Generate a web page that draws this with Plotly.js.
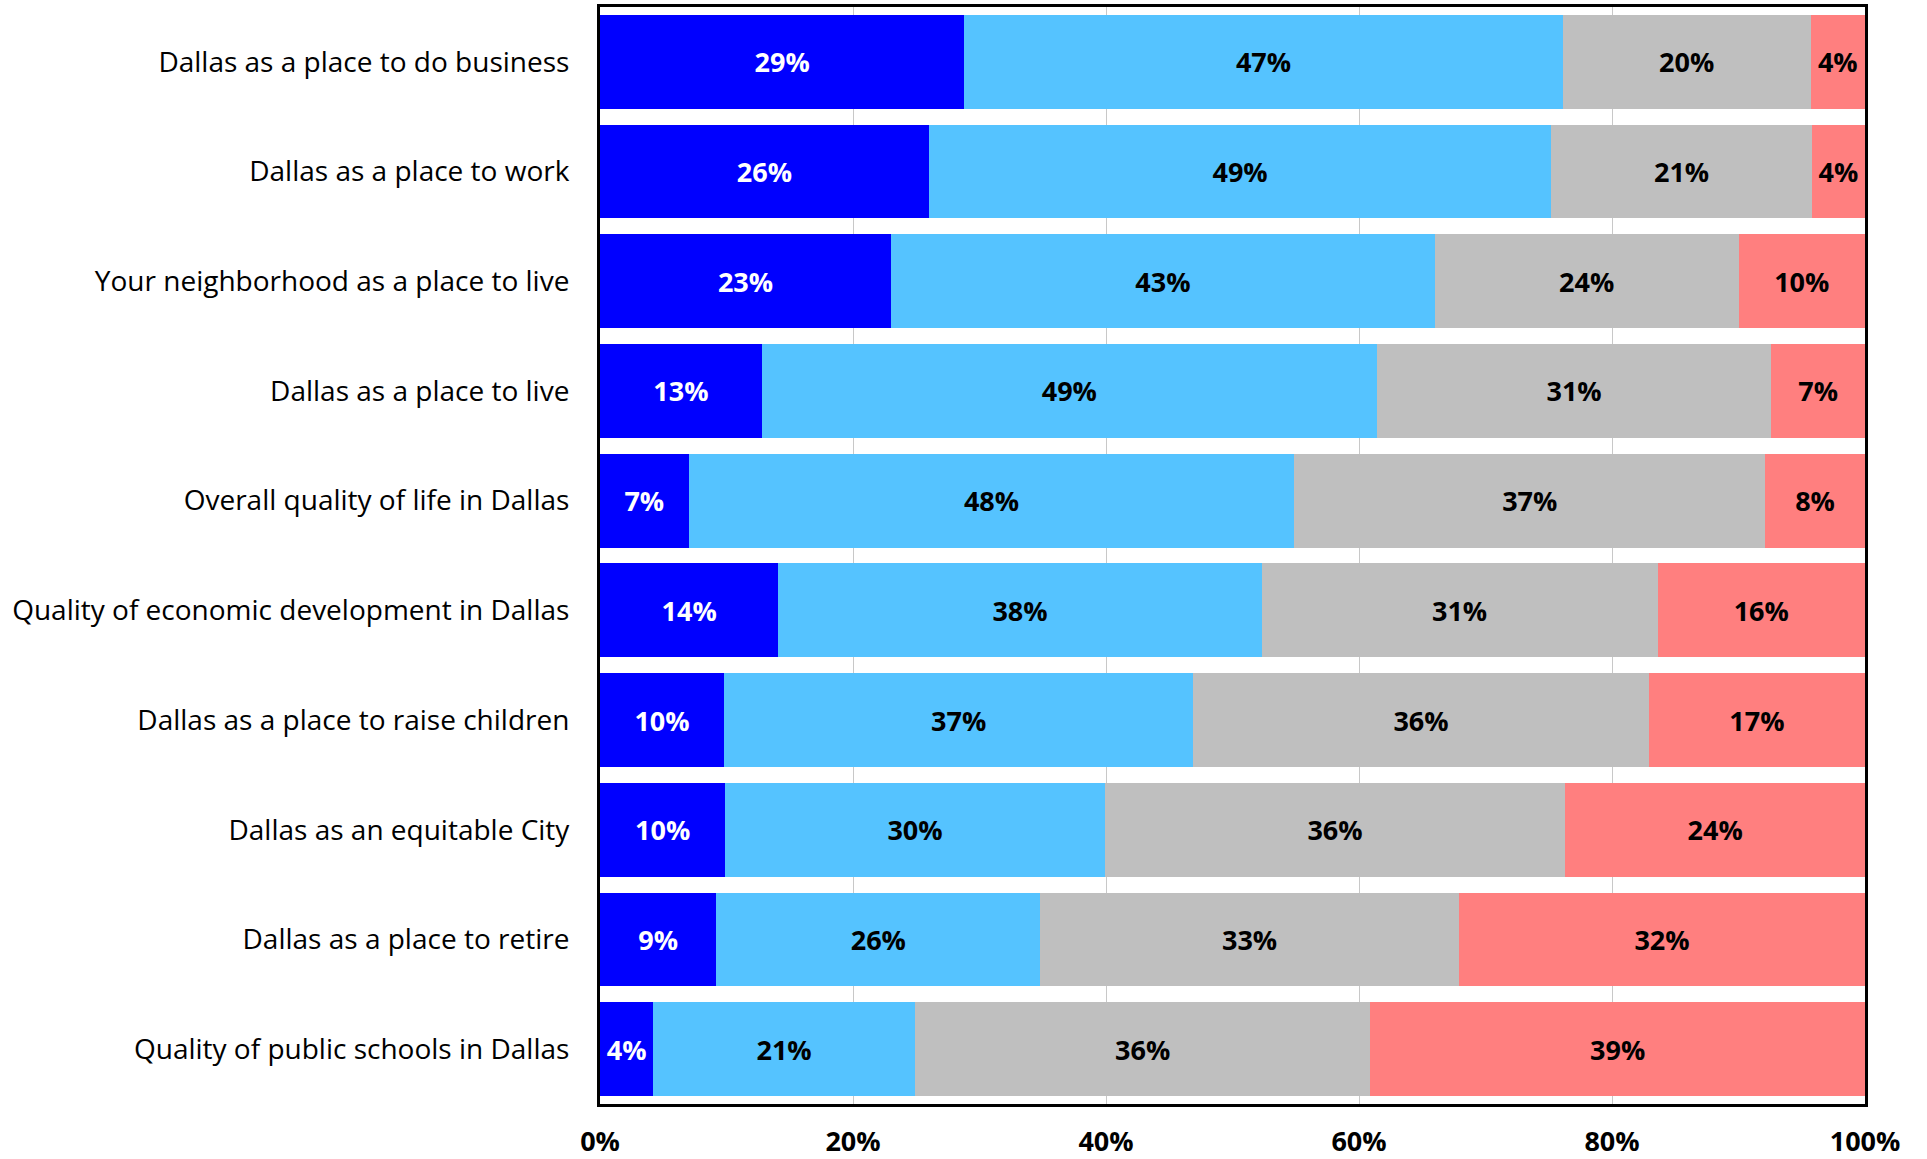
<!DOCTYPE html>
<html>
<head>
<meta charset="utf-8">
<script src="https://cdn.plot.ly/plotly-3.0.1.min.js"></script>
<style>html,body{margin:0;padding:0;background:#fff;}#chart{width:1927px;height:1159px;}</style>
</head>
<body>
<div id="chart"></div>
<script>
const categories = [
  "Dallas as a place to do business",
  "Dallas as a place to work",
  "Your neighborhood as a place to live",
  "Dallas as a place to live",
  "Overall quality of life in Dallas",
  "Quality of economic development in Dallas",
  "Dallas as a place to raise children",
  "Dallas as an equitable City",
  "Dallas as a place to retire",
  "Quality of public schools in Dallas"
];
const excellent = [28.8, 26.0, 23.0, 12.8, 7.0, 14.1, 9.8, 9.9, 9.2, 4.2];
const good      = [47.3, 49.2, 43.0, 48.6, 47.9, 38.2, 37.1, 30.0, 25.6, 20.7];
const fair      = [19.6, 20.6, 24.0, 31.2, 37.2, 31.3, 36.0, 36.4, 33.1, 36.0];
const poor      = [4.3, 4.2, 10.0, 7.4, 7.9, 16.4, 17.1, 23.7, 32.1, 39.1];
const seriesNames = ["Excellent", "Good", "Fair", "Poor"];
const xTickVals = [0, 20, 40, 60, 80, 100];
const xTickText = ["0%", "20%", "40%", "60%", "80%", "100%"];

const colors = ["#0000FF", "#55C3FF", "#BFBFBF", "#FF7F7F"];
const textColors = ["#FFFFFF", "#000000", "#000000", "#000000"];
const allSeries = [excellent, good, fair, poor];

const traces = allSeries.map((vals, i) => ({
  type: "bar",
  orientation: "h",
  name: seriesNames[i],
  y: categories,
  x: vals,
  marker: {color: colors[i], line: {width: 0}},
  texttemplate: "%{x:.0f}%",
  textposition: "inside",
  insidetextanchor: "middle",
  textangle: 0,
  constraintext: "none",
  textfont: {family: "Open Sans, sans-serif", size: 27, color: textColors[i], weight: 700},
  hoverinfo: "none"
}));

const layout = {
  width: 1927,
  height: 1159,
  barmode: "stack",
  bargap: 0.145,
  showlegend: false,
  paper_bgcolor: "#ffffff",
  plot_bgcolor: "#ffffff",
  margin: {l: 600, r: 62, t: 7, b: 55, pad: 0},
  font: {family: "Open Sans, sans-serif", color: "#000000"},
  xaxis: {
    range: [0, 100],
    tickvals: xTickVals,
    ticktext: xTickText,
    tickfont: {family: "Open Sans, sans-serif", size: 27, color: "#000000", weight: 700},
    showgrid: true,
    gridcolor: "#C8C8C8",
    gridwidth: 1,
    zeroline: false,
    showline: true,
    linecolor: "#000000",
    linewidth: 3,
    mirror: true,
    ticks: "",
    ticklabelstandoff: 12,
    fixedrange: true
  },
  yaxis: {
    autorange: "reversed",
    tickfont: {family: "Open Sans, sans-serif", size: 28, color: "#000000"},
    showgrid: false,
    zeroline: false,
    showline: true,
    linecolor: "#000000",
    linewidth: 3,
    mirror: true,
    ticks: "",
    ticklabelstandoff: 22,
    fixedrange: true
  }
};

Plotly.newPlot("chart", traces, layout, {displayModeBar: false, staticPlot: true});
</script>
</body>
</html>
